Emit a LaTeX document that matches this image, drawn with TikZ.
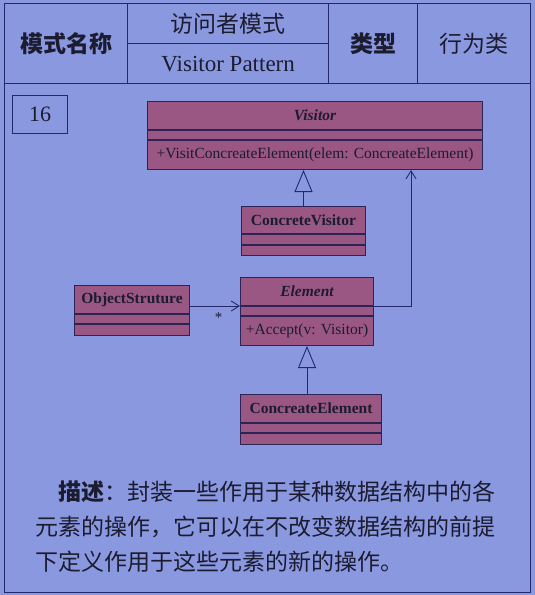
\documentclass[tikz,border=0pt]{standalone}
\usepackage{fontspec}
\setmainfont{Liberation Serif}
\newfontfamily\cjk{Noto Sans CJK SC}
\usetikzlibrary{arrows.meta}

\definecolor{paper}{HTML}{8A98E0}
\definecolor{ink}{HTML}{232A6A}
\definecolor{classfill}{HTML}{9A5783}
\definecolor{classline}{HTML}{2C2456}
\definecolor{txt}{HTML}{1C1C30}

\begin{document}
\begin{tikzpicture}[x=1pt,y=-1pt,
  cell/.style={draw=ink, line width=1.4pt, inner sep=0pt, anchor=north west,
    text=txt, font=\fontsize{23}{26}\selectfont},
  part/.style={draw=classline, fill=classfill, line width=1pt, inner sep=0pt,
    anchor=north west, text=txt, font=\fontsize{15.5}{17}\selectfont},
  gen/.style={draw=ink, line width=0.9pt, -{Triangle[open, length=22pt, width=18pt]}},
  nav/.style={draw=ink, line width=0.9pt, -{Straight Barb[length=8pt, width=10pt]}},
  desc/.style={anchor=west, inner sep=0pt, text=txt, font=\cjk\fontsize{23}{26}\selectfont}
]
% page
\fill[paper] (0,0) rectangle (535,595);
\useasboundingbox (0,0) rectangle (535,595);

% header table
\node[cell, minimum width=123pt, minimum height=80pt] (namecell) at (4,3) {\cjk\bfseries 模式名称};
\node[cell, minimum width=201pt, minimum height=40pt] (cnname) at (127,3) {\cjk 访问者模式};
\node[cell, minimum width=201pt, minimum height=40pt] (enname) at (127,43) {Visitor Pattern};
\node[cell, minimum width=89pt, minimum height=80pt] (typelabel) at (328,3) {\cjk\bfseries 类型};
\node[cell, minimum width=113pt, minimum height=80pt] (typevalue) at (417,3) {\cjk 行为类};

% body frame
\node[cell, minimum width=526pt, minimum height=509pt] (body) at (4,83) {};
\node[cell, minimum width=55pt, minimum height=38pt, font=\fontsize{22}{24}\selectfont] (num) at (12,95) {16};

% Visitor
\node[part, minimum width=335pt, minimum height=28pt] (visname) at (147,101) {\bfseries\itshape Visitor};
\node[part, minimum width=335pt, minimum height=9pt] (visattr) at (visname.south west) {};
\node[part, minimum width=335pt, minimum height=29pt] (vismeth) at (visattr.south west) {+VisitConcreateElement(elem: ConcreateElement)};

% ConcreteVisitor
\node[part, minimum width=124pt, minimum height=27pt] (cvname) at (241,206) {\bfseries ConcreteVisitor};
\node[part, minimum width=124pt, minimum height=10pt] (cvattr) at (cvname.south west) {};
\node[part, minimum width=124pt, minimum height=10pt] (cvmeth) at (cvattr.south west) {};

% ObjectStruture
\node[part, minimum width=115pt, minimum height=28pt] (osname) at (74,285) {\bfseries ObjectStruture};
\node[part, minimum width=115pt, minimum height=9pt] (osattr) at (osname.south west) {};
\node[part, minimum width=115pt, minimum height=11pt] (osmeth) at (osattr.south west) {};

% Element
\node[part, minimum width=133pt, minimum height=28pt] (elname) at (240,277) {\bfseries\itshape Element};
\node[part, minimum width=133pt, minimum height=9pt] (elattr) at (elname.south west) {};
\node[part, minimum width=133pt, minimum height=29pt] (elmeth) at (elattr.south west) {+Accept(v: Visitor)};

% ConcreateElement
\node[part, minimum width=141pt, minimum height=28pt] (cename) at (240,394) {\bfseries ConcreateElement};
\node[part, minimum width=141pt, minimum height=9pt] (ceattr) at (cename.south west) {};
\node[part, minimum width=141pt, minimum height=11pt] (cemeth) at (ceattr.south west) {};

% relations
\draw[gen] (cvname.north) -- (cvname.north |- vismeth.south);
\draw[gen] (cename.north -| elmeth.south) -- (elmeth.south);
\draw[nav] (elname.south east) -| ([xshift=-72pt]vismeth.south east);
\draw[nav] (elname.south west -| osname.east) -- (elname.south west)
  node[pos=0.57, below=3pt, text=txt, font=\fontsize{15}{17}\selectfont] (mult) {*};

% description
\node[desc] (desc1) at (58,492) {{\bfseries 描述}：封装一些作用于某种数据结构中的各};
\node[desc] (desc2) at (35,527) {元素的操作，它可以在不改变数据结构的前提};
\node[desc] (desc3) at (35,562) {下定义作用于这些元素的新的操作。};
\end{tikzpicture}
\end{document}
